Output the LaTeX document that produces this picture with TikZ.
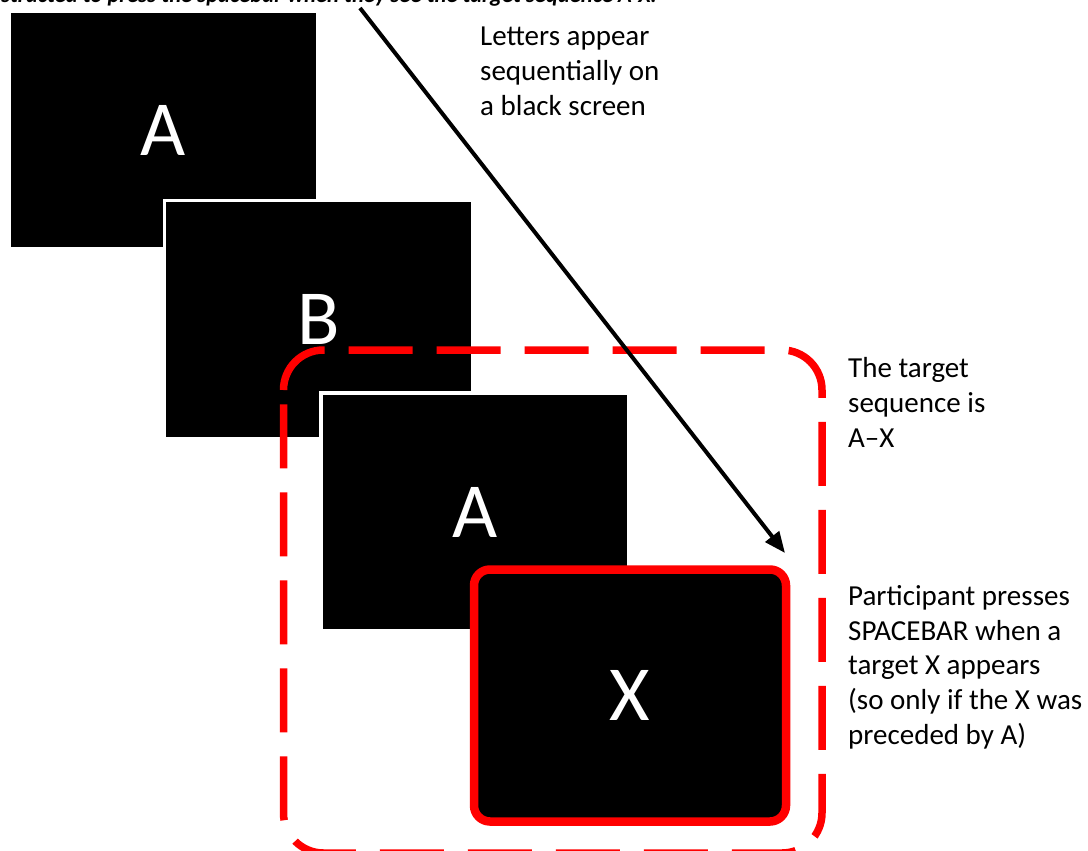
\documentclass[tikz,border=0pt]{standalone}
\usepackage{fontspec}
\setmainfont{Carlito}
\usetikzlibrary{arrows.meta}
\begin{document}
\begin{tikzpicture}[x=1pt,y=-1pt,
  screen/.style={fill=black, draw=white, line width=3.5pt, inner sep=0pt,
    minimum width=308pt, minimum height=238pt, text=white,
    font=\fontsize{78}{80}\selectfont},
  targetbox/.style={fill=black, draw=red, line width=8.5pt, rounded corners=16pt,
    inner sep=0pt, minimum width=312pt, minimum height=252pt, text=white,
    font=\fontsize{78}{80}\selectfont},
  lbl/.style={anchor=base west, align=left, inner sep=0pt,
    font=\fontsize{29}{34.6}\selectfont},
  seqframe/.style={draw=red, line width=7.5pt, dash pattern=on 64pt off 24pt},
  flow/.style={draw=black, line width=4pt, -{Triangle[length=21pt,width=17pt]}}]
\useasboundingbox (0,0) rectangle (1088,851);
\clip (0,0) rectangle (1088,851);

% caption line running off the top edge
\node[anchor=base east, inner sep=0pt, font=\bfseries\itshape\fontsize{22.6}{25}\selectfont]
  (caption) at (657,3) {Participants were instructed to press the spacebar when they see the target sequence A-X.};

% letter screens, each one stacked over the previous
\node[screen] (s1) at (163.5,130) {A};
\node[screen] (s2) at (318.5,319.5) {B};
\node[screen] (s3) at (475,512) {A};

% frame marking the target pair (y axis points down, so angles run clockwise)
\path[seqframe] (283.5,390) arc[start angle=180, end angle=270, radius=40]
  -- (782,350) arc[start angle=270, end angle=360, radius=40]
  -- (822,813) arc[start angle=0, end angle=90, radius=40]
  -- (323.5,853) arc[start angle=90, end angle=180, radius=40] -- cycle;

\node[targetbox] (s4) at (630,695.5) {X};

% descriptions (anchored at the baseline of their last line)
\node[lbl] (ltxt) at (480,115) {Letters appear\\sequentially on\\a black screen};
\node[lbl] (ttxt) at (848,447) {The target\\sequence is\\A–X};
\node[lbl] (ptxt) at (848,744) {Participant presses\\SPACEBAR when a\\target X appears\\(so only if the X was\\preceded by A)};

% time arrow
\coordinate (tstart) at (360,8);
\coordinate (tend) at (785,553);
\draw[flow] (tstart) -- (tend);
\end{tikzpicture}
\end{document}
